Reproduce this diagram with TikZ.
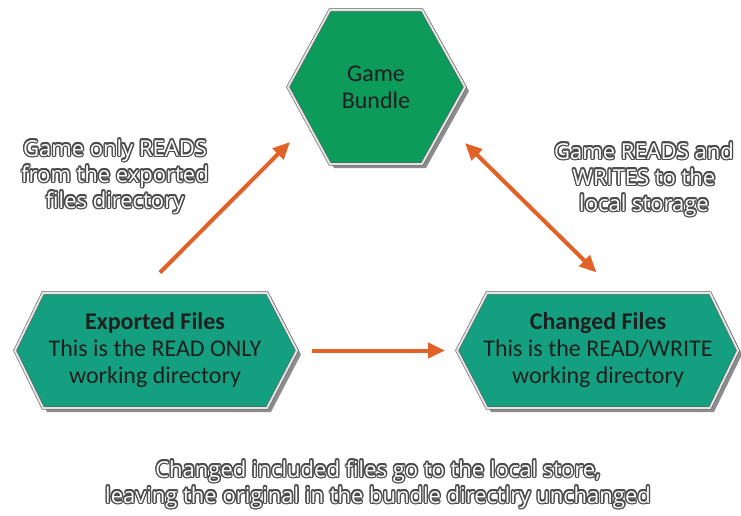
\documentclass[tikz,border=0pt]{standalone}
\usepackage{fontspec}
\setmainfont{Carlito}
\newfontfamily\notefont{Open Sans}
\usepackage{contour}
\contourlength{1.4pt}
\contournumber{10}
\usetikzlibrary{arrows.meta,shadows,backgrounds}

\definecolor{bundlegreen}{RGB}{12,155,90}
\definecolor{filesteal}{RGB}{20,160,128}
\definecolor{arroworange}{RGB}{226,97,38}
\definecolor{haloc}{RGB}{75,75,75}
\definecolor{hexedge}{RGB}{95,95,95}

\newcommand\halo[1]{\contour{haloc}{#1}}

\tikzset{
  hexfill/.style={draw=hexedge, line width=0.6pt, double=gray!20, double distance=2pt,
    drop shadow={shadow xshift=4pt, shadow yshift=-4pt, opacity=0.45, fill=black}},
  hextext/.style={inner sep=0pt, align=center, text=black!88, font=\fontsize{24}{27}\selectfont},
  note/.style={align=center, text=white, font=\notefont\fontsize{22}{26}\selectfont},
  flow/.style={draw=arroworange, line width=4pt, -{Triangle[length=17pt,width=15pt]}},
}

\begin{document}
\begin{tikzpicture}[x=1pt,y=-1pt]
  \useasboundingbox (0,0) rectangle (741,515);

  \node[hextext] (bundle) at (376,87) {Game\\Bundle};
  \node[hextext] (exported) at (155,350.5) {\textbf{Exported Files}\\This is the READ ONLY\\working directory};
  \node[hextext] (changed) at (598,350.5) {\textbf{Changed Files}\\This is the READ/WRITE\\working directory};

  % hexagons behind the texts
  \begin{scope}[on background layer]
    \begin{scope}[shift={(bundle.center)}]
      \path[hexfill, fill=bundlegreen] (-88,0) -- (-46,-77) -- (46,-77) -- (89,0) -- (46,77) -- (-46,77) -- cycle;
    \end{scope}
    \begin{scope}[shift={(exported.center)}]
      \path[hexfill, fill=filesteal] (-140,0) -- (-112,-57.5) -- (112,-57.5) -- (142,0) -- (112,57.5) -- (-112,57.5) -- cycle;
      \coordinate (exportedtip) at (142,0);
    \end{scope}
    \begin{scope}[shift={(changed.center)}]
      \path[hexfill, fill=filesteal] (-141,0) -- (-111,-57.5) -- (112,-57.5) -- (140,0) -- (112,57.5) -- (-111,57.5) -- cycle;
      \coordinate (changedtip) at (-141,0);
    \end{scope}
  \end{scope}

  \draw[flow] ([shift={(5,-78)}]exported.center) -- ([shift={(-86,55)}]bundle.center);
  \draw[flow, {Triangle[length=17pt,width=15pt]}-{Triangle[length=17pt,width=15pt]}]
    ([shift={(89,56)}]bundle.center) -- ([shift={(-1.5,-78)}]changed.center);
  \draw[flow, shorten <=15pt, shorten >=12pt] (exportedtip) -- (changedtip);

  \node[note] (readnote) at (115,177) {\halo{Game only READS}\\\halo{from the exported}\\\halo{files directory}};
  \node[note] (storenote) at (644,180) {\halo{Game READS and}\\\halo{WRITES to the}\\\halo{local storage}};
  \node[note] (bottomnote) at (378,485) {\halo{Changed included files go to the local store,}\\\halo{leaving the original in the bundle directlry unchanged}};
\end{tikzpicture}
\end{document}
